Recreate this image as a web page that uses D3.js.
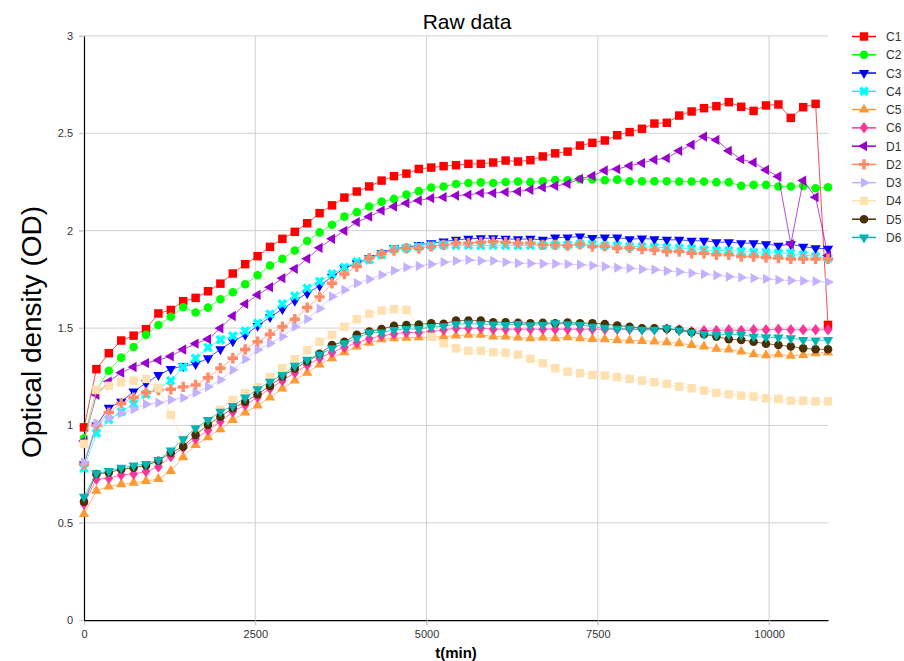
<!DOCTYPE html>
<html>
<head>
<meta charset="utf-8">
<script src="https://cdn.jsdelivr.net/npm/d3@7"></script>
<style>
  html, body { margin: 0; padding: 0; background: #fff; }
  svg { display: block; font-family: "Liberation Sans", Arial, sans-serif; }
</style>
</head>
<body>
<svg id="chart" width="904" height="661"></svg>
<script>
// Sampling times (minutes)
const times = [0,181,362,543,724,905,1086,1267,1448,1629,1810,1991,2172,2353,2534,2715,2896,3077,3258,3439,
  3620,3801,3982,4163,4344,4525,4706,4887,5068,5249,5430,5611,5792,5973,6154,6335,6516,6697,6878,7059,
  7240,7421,7602,7783,7964,8145,8326,8507,8688,8869,9050,9231,9412,9593,9774,9955,10136,10317,10498,10679,10860];

// Optical density per well
const C1 = [0.99,1.289,1.371,1.436,1.461,1.494,1.575,1.593,1.638,1.655,1.689,1.728,1.780,1.828,1.869,1.917,1.958,1.994,2.038,2.090,
  2.130,2.170,2.201,2.227,2.257,2.280,2.293,2.317,2.324,2.331,2.336,2.343,2.343,2.350,2.360,2.355,2.362,2.381,2.397,2.406,
  2.437,2.451,2.463,2.490,2.506,2.523,2.550,2.554,2.591,2.612,2.629,2.639,2.660,2.636,2.615,2.643,2.648,2.579,2.634,2.651,1.516];
const C2 = [0.934,1.182,1.281,1.348,1.403,1.465,1.516,1.558,1.607,1.580,1.605,1.648,1.684,1.725,1.771,1.821,1.855,1.898,1.947,1.991,
  2.030,2.072,2.095,2.124,2.149,2.163,2.185,2.203,2.221,2.227,2.240,2.245,2.248,2.245,2.250,2.252,2.249,2.253,2.260,2.259,
  2.264,2.264,2.259,2.262,2.254,2.254,2.254,2.254,2.252,2.252,2.252,2.249,2.249,2.230,2.235,2.235,2.227,2.227,2.230,2.218,2.223];
const C3 = [0.80,1.00,1.091,1.122,1.174,1.217,1.259,1.290,1.305,1.315,1.345,1.391,1.432,1.465,1.511,1.556,1.597,1.640,1.679,1.717,
  1.764,1.807,1.833,1.859,1.884,1.910,1.913,1.927,1.936,1.944,1.953,1.958,1.961,1.961,1.958,1.956,1.958,1.953,1.965,1.965,
  1.970,1.962,1.965,1.965,1.956,1.960,1.956,1.953,1.953,1.948,1.948,1.941,1.941,1.936,1.936,1.931,1.923,1.930,1.918,1.910,1.907];
const C4 = [0.78,0.96,1.03,1.07,1.11,1.16,1.19,1.23,1.30,1.345,1.40,1.44,1.46,1.485,1.525,1.572,1.624,1.665,1.705,1.74,
  1.778,1.812,1.841,1.850,1.876,1.905,1.910,1.918,1.923,1.927,1.925,1.925,1.923,1.925,1.925,1.923,1.925,1.925,1.927,1.927,
  1.932,1.930,1.923,1.923,1.918,1.918,1.915,1.913,1.910,1.908,1.901,1.898,1.898,1.893,1.890,1.888,1.884,1.884,1.876,1.867,1.859];
const C5 = [0.545,0.665,0.686,0.698,0.706,0.715,0.725,0.766,0.837,0.900,0.939,0.980,1.028,1.066,1.102,1.143,1.190,1.230,1.271,1.313,
  1.345,1.376,1.405,1.425,1.443,1.448,1.450,1.452,1.453,1.456,1.461,1.465,1.465,1.456,1.456,1.451,1.448,1.451,1.448,1.453,
  1.448,1.444,1.443,1.439,1.436,1.434,1.431,1.427,1.422,1.413,1.405,1.393,1.390,1.379,1.365,1.360,1.365,1.358,1.362,1.371,1.374];
const C6 = [0.597,0.724,0.729,0.746,0.751,0.763,0.788,0.840,0.885,0.930,0.975,1.020,1.070,1.105,1.145,1.190,1.230,1.270,1.310,1.345,
  1.375,1.400,1.425,1.445,1.460,1.470,1.477,1.477,1.482,1.490,1.499,1.499,1.499,1.494,1.494,1.494,1.494,1.494,1.494,1.494,
  1.494,1.494,1.494,1.494,1.494,1.494,1.494,1.494,1.491,1.482,1.487,1.487,1.491,1.487,1.491,1.491,1.494,1.491,1.491,1.491,1.491];
const D1 = [0.92,1.157,1.225,1.271,1.300,1.320,1.335,1.355,1.390,1.420,1.443,1.499,1.562,1.624,1.670,1.710,1.756,1.804,1.856,1.912,
  1.958,1.999,2.044,2.072,2.103,2.124,2.141,2.155,2.167,2.172,2.180,2.184,2.193,2.193,2.198,2.201,2.210,2.222,2.230,2.240,
  2.266,2.281,2.309,2.316,2.333,2.347,2.364,2.372,2.410,2.441,2.483,2.466,2.410,2.367,2.350,2.312,2.278,1.931,2.257,2.172,1.872];
const D2 = [0.80,1.00,1.066,1.113,1.143,1.169,1.182,1.186,1.198,1.208,1.245,1.294,1.345,1.390,1.430,1.468,1.507,1.545,1.605,1.660,
  1.730,1.777,1.816,1.859,1.881,1.898,1.910,1.910,1.918,1.927,1.936,1.936,1.941,1.944,1.941,1.936,1.936,1.927,1.927,1.923,
  1.930,1.918,1.920,1.910,1.912,1.905,1.901,1.893,1.893,1.884,1.884,1.876,1.876,1.867,1.867,1.862,1.859,1.855,1.855,1.855,1.855];
const D3 = [0.81,1.011,1.037,1.062,1.083,1.109,1.117,1.132,1.141,1.168,1.198,1.234,1.285,1.340,1.388,1.422,1.456,1.507,1.546,1.600,
  1.662,1.696,1.730,1.751,1.773,1.795,1.812,1.819,1.828,1.838,1.845,1.850,1.845,1.845,1.838,1.833,1.832,1.830,1.830,1.828,
  1.825,1.821,1.816,1.810,1.807,1.802,1.800,1.793,1.788,1.782,1.777,1.771,1.764,1.760,1.756,1.752,1.747,1.744,1.742,1.740,1.736];
const D4 = [0.905,1.182,1.203,1.222,1.230,1.239,1.191,1.054,0.926,0.968,1.020,1.080,1.131,1.165,1.196,1.248,1.294,1.340,1.386,1.430,
  1.465,1.507,1.545,1.573,1.590,1.597,1.593,1.510,1.455,1.422,1.396,1.383,1.383,1.376,1.374,1.364,1.342,1.319,1.294,1.276,
  1.268,1.259,1.256,1.248,1.239,1.230,1.222,1.213,1.199,1.191,1.179,1.168,1.160,1.153,1.148,1.140,1.136,1.127,1.127,1.124,1.124];
const D5 = [0.609,0.751,0.758,0.775,0.783,0.794,0.818,0.860,0.891,0.951,1.003,1.045,1.088,1.122,1.160,1.203,1.252,1.292,1.328,1.368,
  1.413,1.430,1.465,1.482,1.495,1.511,1.515,1.518,1.525,1.522,1.538,1.538,1.538,1.530,1.530,1.527,1.525,1.527,1.525,1.528,
  1.525,1.525,1.521,1.513,1.507,1.499,1.499,1.496,1.491,1.479,1.468,1.456,1.443,1.439,1.430,1.419,1.413,1.405,1.396,1.391,1.391];
const D6 = [0.634,0.754,0.766,0.783,0.794,0.802,0.823,0.871,0.929,0.986,1.028,1.071,1.100,1.143,1.186,1.225,1.259,1.306,1.338,1.364,
  1.396,1.422,1.448,1.477,1.477,1.490,1.495,1.495,1.505,1.510,1.520,1.523,1.520,1.518,1.516,1.521,1.515,1.517,1.525,1.519,
  1.516,1.507,1.502,1.496,1.496,1.491,1.491,1.499,1.487,1.477,1.470,1.465,1.468,1.465,1.456,1.453,1.451,1.448,1.439,1.436,1.439];

const seriesNames = ["C1","C2","C3","C4","C5","C6","D1","D2","D3","D4","D5","D6"];
const seriesValues = [C1,C2,C3,C4,C5,C6,D1,D2,D3,D4,D5,D6];
const xTicks = [0, 2500, 5000, 7500, 10000];
const yTicks = [0, 0.5, 1, 1.5, 2, 2.5, 3];

// Per-series look: colour, marker shape, rotation, marker size
const styles = {
  C1: {color: "#ff0000", shape: d3.symbolSquare,   rot: 0,   size: 72},
  C2: {color: "#00ff00", shape: d3.symbolCircle,   rot: 0,   size: 58},
  C3: {color: "#0000ff", shape: d3.symbolTriangle, rot: 180, size: 46},
  C4: {color: "#00ffff", shape: d3.symbolCross,    rot: 45,  size: 60},
  C5: {color: "#ff9933", shape: d3.symbolTriangle, rot: 0,   size: 46},
  C6: {color: "#ff3399", shape: d3.symbolDiamond,  rot: 0,   size: 38},
  D1: {color: "#9900cc", shape: d3.symbolTriangle, rot: -90, size: 46},
  D2: {color: "#ff8c69", shape: d3.symbolCross,    rot: 0,   size: 60},
  D3: {color: "#c4b0ff", shape: d3.symbolTriangle, rot: 90,  size: 46},
  D4: {color: "#ffe0b0", shape: d3.symbolSquare,   rot: 0,   size: 72},
  D5: {color: "#4a3000", shape: d3.symbolCircle,   rot: 0,   size: 58},
  D6: {color: "#00b4b4", shape: d3.symbolTriangle, rot: 180, size: 46}
};

const svg = d3.select("#chart");
const plotLeft = 84, plotRight = 828, plotTop = 35.9, plotBottom = 620.2;

const x = d3.scaleLinear().domain([0, times[times.length - 1]]).range([plotLeft, plotRight]);
const y = d3.scaleLinear().domain([0, 3]).range([plotBottom, plotTop]);

// Grid
const grid = svg.append("g");
grid.selectAll("line.gx").data(xTicks.filter(d => d > 0)).enter().append("line")
  .attr("x1", d => x(d)).attr("x2", d => x(d))
  .attr("y1", plotTop).attr("y2", plotBottom + 5)
  .attr("stroke", "#d0d0d0").attr("stroke-width", 1);
grid.selectAll("line.gy").data(yTicks.filter(d => d > 0)).enter().append("line")
  .attr("x1", plotLeft - 5).attr("x2", plotRight)
  .attr("y1", d => y(d)).attr("y2", d => y(d))
  .attr("stroke", "#d0d0d0").attr("stroke-width", 1);

// Axes
const xAxis = svg.append("g").attr("transform", `translate(0,${plotBottom})`)
  .call(d3.axisBottom(x).tickValues(xTicks).tickFormat(d3.format("d")).tickSize(5).tickSizeOuter(0).tickPadding(5));
const yAxis = svg.append("g").attr("transform", `translate(${plotLeft},0)`)
  .call(d3.axisLeft(y).tickValues(yTicks).tickFormat(d => String(d)).tickSize(5).tickSizeOuter(0).tickPadding(6));
[xAxis, yAxis].forEach(a => {
  a.select(".domain").attr("stroke", "#000").attr("stroke-width", 1.2);
  a.selectAll(".tick line").attr("stroke", "#c8c8c8");
  a.selectAll(".tick text").attr("fill", "#333").style("font-size", "11px")
    .style("font-family", "'Liberation Sans', Arial, sans-serif");
});

// Series lines and markers
const line = d3.line().x((d, i) => x(times[i])).y(d => y(d));
const plot = svg.append("g");
seriesNames.forEach((name, k) => {
  const st = styles[name];
  const vals = seriesValues[k];
  const g = plot.append("g");
  g.append("path").datum(vals)
    .attr("d", line).attr("fill", "none")
    .attr("stroke", st.color).attr("stroke-width", 1).attr("stroke-opacity", 0.7);
  const sym = d3.symbol().type(st.shape).size(st.size)();
  g.selectAll("path.m").data(vals).enter().append("path")
    .attr("class", "m")
    .attr("d", sym)
    .attr("transform", (d, i) => `translate(${x(times[i])},${y(d)}) rotate(${st.rot})` + (name === "C6" ? " scale(1.3,1)" : ""))
    .attr("fill", st.color);
});

// Legend
const legend = svg.append("g");
seriesNames.forEach((name, k) => {
  const st = styles[name];
  const ly = 36.5 + k * 18.27;
  const row = legend.append("g").attr("transform", `translate(0,${ly})`);
  row.append("line").attr("x1", 852).attr("x2", 876).attr("y1", 0).attr("y2", 0)
    .attr("stroke", st.color).attr("stroke-width", 1.5);
  row.append("path").attr("d", d3.symbol().type(st.shape).size(st.size)())
    .attr("transform", `translate(864,0) rotate(${st.rot})` + (name === "C6" ? " scale(1.3,1)" : ""))
    .attr("fill", st.color);
  row.append("text").attr("x", 886).attr("y", 4.5).text(name)
    .attr("fill", "#333").style("font-size", "12px");
});

// Titles
svg.append("text").attr("x", 467).attr("y", 29).attr("text-anchor", "middle")
  .style("font-size", "21px").attr("fill", "#000").text("Raw data");
svg.append("text").attr("x", 456).attr("y", 658).attr("text-anchor", "middle")
  .style("font-size", "15px").style("font-weight", "bold").attr("fill", "#000").text("t(min)");
svg.append("text").attr("transform", "translate(41,332) rotate(-90)").attr("text-anchor", "middle")
  .style("font-size", "28px").attr("fill", "#000").text("Optical density (OD)");
</script>
</body>
</html>
